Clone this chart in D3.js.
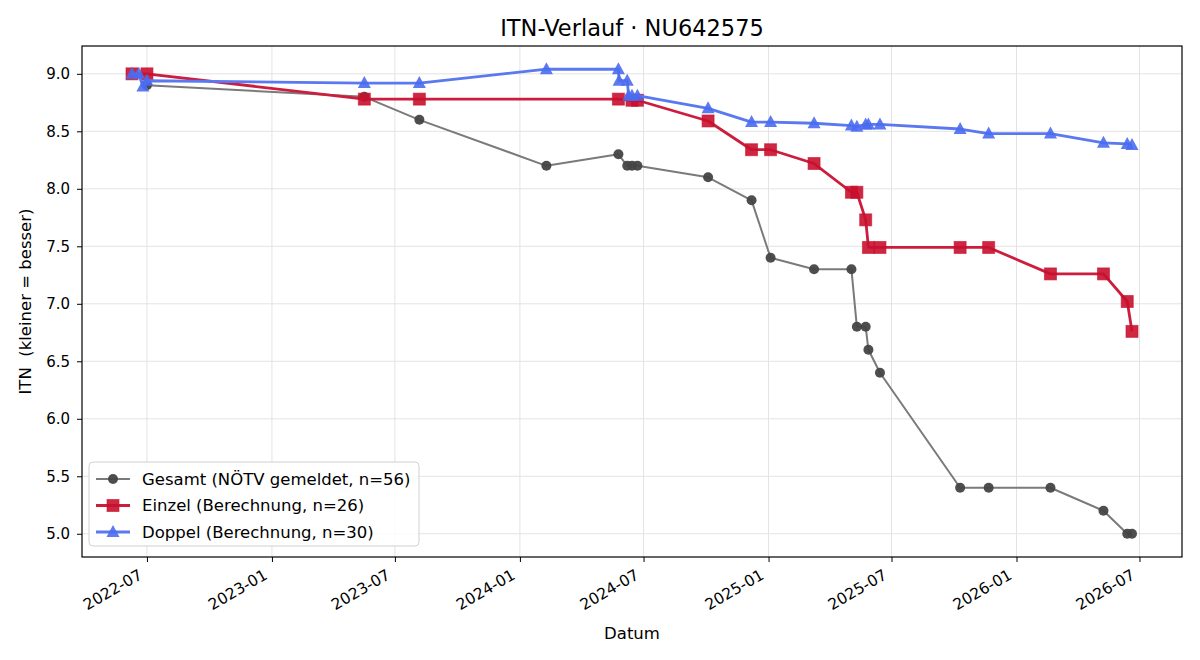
<!DOCTYPE html>
<html>
<head>
<meta charset="utf-8">
<script src="https://cdn.jsdelivr.net/npm/d3@7"></script>
<style>
  body { margin: 0; background: #fff; }
  svg, svg text { font-family: "DejaVu Sans", sans-serif; }
</style>
</head>
<body>
<script>
var width = 1200,
    height = 660;

// Gesamt (NÖTV gemeldet)
var gesamtDates = ["2022-07-01","2023-05-17","2023-08-06","2024-02-09","2024-05-25","2024-06-07","2024-06-14","2024-06-22",
  "2024-10-04","2024-12-07","2025-01-04","2025-03-09","2025-05-03","2025-05-11","2025-05-24","2025-05-28","2025-06-14",
  "2025-10-10","2025-11-21","2026-02-20","2026-05-09","2026-06-13","2026-06-20"];
var gesamtValues = [8.9,8.8,8.6,8.2,8.3,8.2,8.2,8.2,
  8.1,7.9,7.4,7.3,7.3,6.8,6.8,6.6,6.4,
  5.4,5.4,5.4,5.2,5.0,5.0];

// Einzel (Berechnung)
var einzelDates = ["2022-06-09","2022-07-01","2023-05-17","2023-08-06","2024-05-25","2024-06-14","2024-06-22",
  "2024-10-04","2024-12-07","2025-01-04","2025-03-09","2025-05-03","2025-05-11","2025-05-24","2025-05-28","2025-06-14",
  "2025-10-10","2025-11-21","2026-02-20","2026-05-09","2026-06-13","2026-06-20"];
var einzelValues = [9.0,9.0,8.78,8.78,8.78,8.77,8.77,
  8.59,8.34,8.34,8.22,7.97,7.97,7.73,7.49,7.49,
  7.49,7.49,7.26,7.26,7.02,6.76];

// Doppel (Berechnung)
var doppelDates = ["2022-06-09","2022-06-19","2022-06-25","2022-07-01","2023-05-17","2023-08-06","2024-02-09",
  "2024-05-25","2024-05-26","2024-06-07","2024-06-09","2024-06-14","2024-06-22","2024-10-04","2024-12-07","2025-01-04",
  "2025-03-09","2025-05-03","2025-05-11","2025-05-24","2025-05-28","2025-06-14","2025-10-10","2025-11-21","2026-02-20",
  "2026-05-09","2026-06-13","2026-06-20"];
var doppelValues = [9.0,9.0,8.89,8.94,8.92,8.92,9.04,
  9.04,8.94,8.94,8.81,8.81,8.81,8.70,8.58,8.58,
  8.57,8.55,8.54,8.56,8.56,8.56,8.52,8.48,8.48,
  8.40,8.39,8.38];

var yTicks = [5.0,5.5,6.0,6.5,7.0,7.5,8.0,8.5,9.0];
var labels = ["Gesamt (NÖTV gemeldet, n=56)","Einzel (Berechnung, n=26)","Doppel (Berechnung, n=30)"];

var parse = d3.timeParse("%Y-%m-%d");
function pack(dates, values) {
  return dates.map(function(d, i) { return {date: parse(d), value: values[i]}; });
}
var series = [
  {name: labels[0], data: pack(gesamtDates, gesamtValues), line: "#7a7a7a", mark: "#444444", lw: 2, shape: "circle"},
  {name: labels[1], data: pack(einzelDates, einzelValues), line: "#cc1d3d", mark: "#c8102e", lw: 2.8, shape: "square"},
  {name: labels[2], data: pack(doppelDates, doppelValues), line: "#5a78f0", mark: "#4a6cf0", lw: 2.8, shape: "triangle"}
];

var margin = {top: 46, right: 18, bottom: 103, left: 82};
var iw = width - margin.left - margin.right,
    ih = height - margin.top - margin.bottom;

var all = [].concat(series[0].data, series[1].data, series[2].data);
var tExt = d3.extent(all, function(d) { return +d.date; });
var vExt = d3.extent(all, function(d) { return d.value; });
var tPad = (tExt[1] - tExt[0]) * 0.05,
    vPad = (vExt[1] - vExt[0]) * 0.05;

var x = d3.scaleTime()
    .domain([new Date(tExt[0] - tPad), new Date(tExt[1] + tPad)])
    .range([0, iw]);
var y = d3.scaleLinear()
    .domain([vExt[0] - vPad, vExt[1] + vPad])
    .range([ih, 0]);

var svg = d3.select("body").append("svg")
    .attr("width", width)
    .attr("height", height);

svg.append("text")
    .attr("x", margin.left + iw / 2)
    .attr("y", 36)
    .attr("text-anchor", "middle")
    .style("font-size", "22.5px")
    .text("ITN-Verlauf · NU642575");

var g = svg.append("g").attr("transform", "translate(" + margin.left + "," + margin.top + ")");

var xTicks = x.ticks(d3.timeMonth.every(6));

// grid
g.selectAll(".gx").data(xTicks).enter().append("line")
    .attr("x1", function(d) { return x(d); }).attr("x2", function(d) { return x(d); })
    .attr("y1", 0).attr("y2", ih)
    .attr("stroke", "#e3e3e3").attr("stroke-width", 1);
g.selectAll(".gy").data(yTicks).enter().append("line")
    .attr("y1", function(d) { return y(d); }).attr("y2", function(d) { return y(d); })
    .attr("x1", 0).attr("x2", iw)
    .attr("stroke", "#e3e3e3").attr("stroke-width", 1);

// axes
var xAxis = g.append("g")
    .attr("transform", "translate(0," + ih + ")")
    .attr("font-family", "DejaVu Sans")
    .call(d3.axisBottom(x).tickValues(xTicks).tickFormat(d3.timeFormat("%Y-%m")).tickSize(5).tickSizeOuter(0));
xAxis.select(".domain").remove();
xAxis.selectAll("line").attr("stroke", "#000");
xAxis.selectAll("text")
    .style("font-size", "15.5px")
    .attr("fill", "#000")
    .attr("text-anchor", "end")
    .attr("y", 0).attr("dy", 0)
    .attr("transform", "translate(-4,21) rotate(-30)");

var yAxis = g.append("g")
    .attr("font-family", "DejaVu Sans")
    .call(d3.axisLeft(y).tickValues(yTicks).tickFormat(d3.format(".1f")).tickSize(5).tickSizeOuter(0));
yAxis.select(".domain").remove();
yAxis.selectAll("line").attr("stroke", "#000");
yAxis.selectAll("text").style("font-size", "15px").attr("fill", "#000").attr("x", -12);

g.append("rect")
    .attr("width", iw).attr("height", ih)
    .attr("fill", "none").attr("stroke", "#000").attr("stroke-width", 1.2);

svg.append("text")
    .attr("x", margin.left + iw / 2)
    .attr("y", 639)
    .attr("text-anchor", "middle")
    .style("font-size", "16.5px")
    .text("Datum");

svg.append("text")
    .attr("transform", "translate(31," + (margin.top + ih / 2) + ") rotate(-90)")
    .attr("text-anchor", "middle")
    .style("font-size", "16.5px")
    .style("white-space", "pre")
    .attr("xml:space", "preserve")
    .text("ITN  (kleiner = besser)");

// markers
function drawMark(sel, s) {
  if (s.shape === "circle") {
    sel.append("circle").attr("r", 5).attr("fill", s.mark).attr("fill-opacity", 0.95);
  } else if (s.shape === "square") {
    sel.append("rect").attr("x", -6).attr("y", -6).attr("width", 12).attr("height", 12)
      .attr("fill", s.mark).attr("fill-opacity", 0.9)
      .attr("stroke", s.mark).attr("stroke-opacity", 0.6);
  } else {
    sel.append("path").attr("d", "M0,-7L6.5,5L-6.5,5Z").attr("fill", s.mark).attr("fill-opacity", 0.9);
  }
}

var line = d3.line()
    .x(function(d) { return x(d.date); })
    .y(function(d) { return y(d.value); });

series.forEach(function(s) {
  g.append("path")
      .datum(s.data)
      .attr("fill", "none")
      .attr("stroke", s.line)
      .attr("stroke-width", s.lw)
      .attr("stroke-linejoin", "round")
      .attr("d", line);
  g.selectAll(".m-" + s.shape)
      .data(s.data)
      .enter().append("g")
      .attr("class", "m-" + s.shape)
      .attr("transform", function(d) { return "translate(" + x(d.date) + "," + y(d.value) + ")"; })
      .each(function() { drawMark(d3.select(this), s); });
});

// legend
var lg = svg.append("g").attr("transform", "translate(89,462)");
lg.append("rect")
    .attr("width", 330).attr("height", 84).attr("rx", 4)
    .attr("fill", "#fff").attr("fill-opacity", 0.85)
    .attr("stroke", "#d0d0d0");
series.forEach(function(s, i) {
  var row = lg.append("g").attr("transform", "translate(0," + (17 + i * 26.5) + ")");
  row.append("line").attr("x1", 7).attr("x2", 41).attr("stroke", s.line).attr("stroke-width", s.lw);
  drawMark(row.append("g").attr("transform", "translate(24,0)"), s);
  row.append("text").attr("x", 53).attr("dy", "0.36em").style("font-size", "16.5px").text(s.name);
});
</script>
</body>
</html>
